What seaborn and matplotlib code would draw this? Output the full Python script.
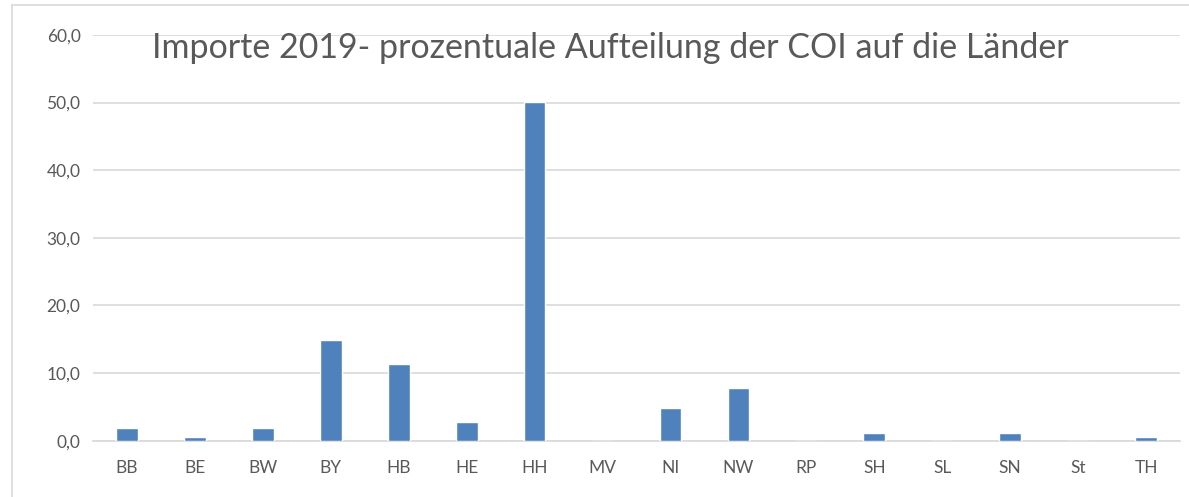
import matplotlib
matplotlib.use("Agg")
import matplotlib.pyplot as plt
import seaborn as sns
import pandas as pd
from matplotlib.lines import Line2D

laender = ["BB", "BE", "BW", "BY", "HB", "HE", "HH", "MV", "NI", "NW",
           "RP", "SH", "SL", "SN", "St", "TH"]
anteile = [1.9, 0.5, 1.9, 14.9, 11.3, 2.8, 50.1, 0.0, 4.9, 7.8,
           0.0, 1.1, 0.0, 1.1, 0.0, 0.5]
y_ticks = [0, 10, 20, 30, 40, 50, 60]
y_labels = ["0,0", "10,0", "20,0", "30,0", "40,0", "50,0", "60,0"]
titel = "Importe 2019- prozentuale Aufteilung der COI auf die Länder"

sns.set_theme(style="white")
plt.rcParams['font.family'] = ['Lato', 'DejaVu Sans']

df = pd.DataFrame({"Land": laender, "Anteil": anteile})

fig = plt.figure(figsize=(11.89, 4.97), dpi=100)
ax = fig.add_axes([93/1189, 1-440.7/497, (1180-93)/1189, (440.7-35)/497])

sns.barplot(data=df, x="Land", y="Anteil", color="#4F81BD", width=0.32,
            saturation=1, ax=ax, zorder=3)

ax.set_ylim(0, 60)
ax.set_xlim(-0.5, len(laender) - 0.5)
ax.set_yticks(y_ticks)
ax.set_yticklabels(y_labels)
ax.yaxis.grid(True, color="#D9D9D9", linewidth=1.2, zorder=0)
ax.set_axisbelow(True)
for s in ["top", "right", "left"]:
    ax.spines[s].set_visible(False)
ax.spines["bottom"].set_color("#D9D9D9")
ax.spines["bottom"].set_linewidth(1.2)
ax.set_xlabel("")
ax.set_ylabel("")
ax.tick_params(axis="both", length=0, labelsize=12.5, labelcolor="#595959")
ax.tick_params(axis="x", pad=14)
ax.tick_params(axis="y", pad=9)

fig.text(610/1189, 1-48/497, titel, ha="center", va="center",
         fontsize=24.5, color="#595959")

# chart border (top and left)
fig.add_artist(Line2D([12/1189, 1], [1-5/497, 1-5/497], transform=fig.transFigure,
                      color="#D9D9D9", linewidth=1.2))
fig.add_artist(Line2D([12/1189, 12/1189], [0, 1-5/497], transform=fig.transFigure,
                      color="#D9D9D9", linewidth=1.2))

fig.savefig("out.png", dpi=100, facecolor="white")
